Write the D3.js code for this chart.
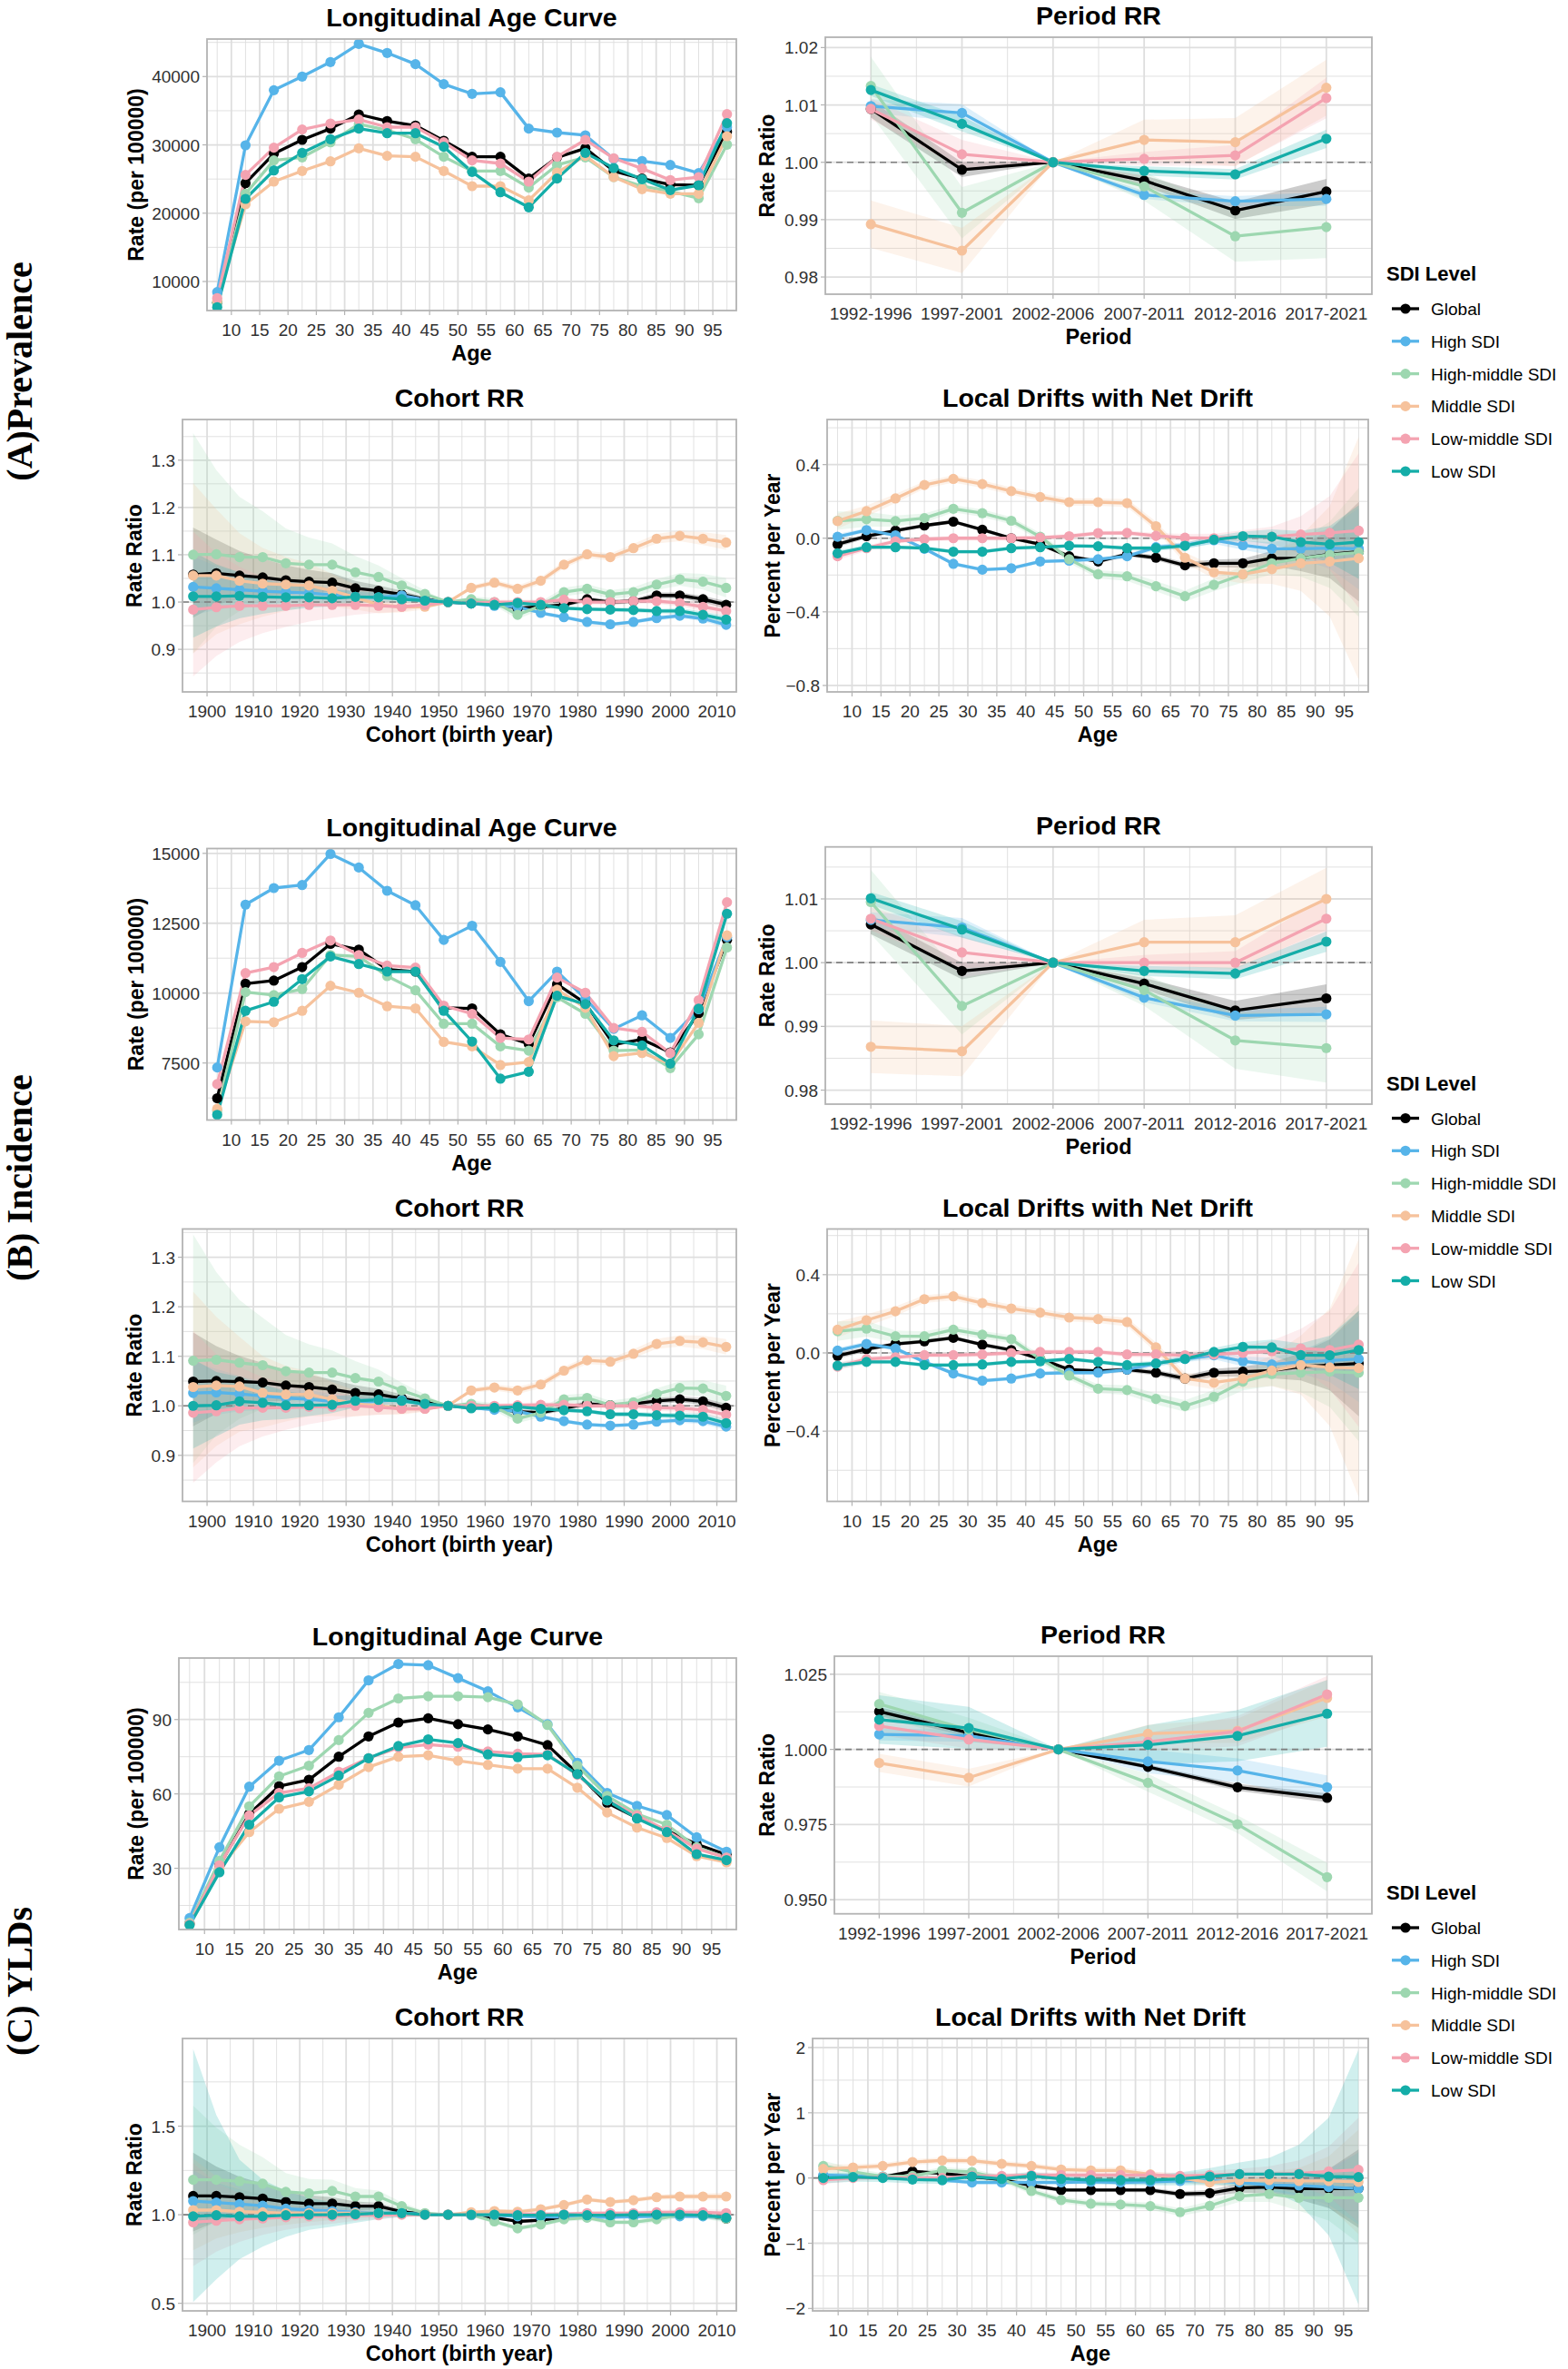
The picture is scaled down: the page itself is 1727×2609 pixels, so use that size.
<!DOCTYPE html>
<html><head><meta charset="utf-8">
<script src="https://cdn.jsdelivr.net/npm/d3@7"></script>
<style>body{margin:0;background:#fff}</style>
</head><body><svg id="c" width="1727" height="2609" xmlns="http://www.w3.org/2000/svg"></svg>
<script>
// ---------------- DATA ----------------
const sdiLevels = ["Global","High SDI","High-middle SDI","Middle SDI","Low-middle SDI","Low SDI"];
const ages = [7.5,12.5,17.5,22.5,27.5,32.5,37.5,42.5,47.5,52.5,57.5,62.5,67.5,72.5,77.5,82.5,87.5,92.5,97.5];
const ageTicks = [10,15,20,25,30,35,40,45,50,55,60,65,70,75,80,85,90,95];
const periods = ["1992-1996","1997-2001","2002-2006","2007-2011","2012-2016","2017-2021"];
const cohorts = [1897,1902,1907,1912,1917,1922,1927,1932,1937,1942,1947,1952,1957,1962,1967,1972,1977,1982,1987,1992,1997,2002,2007,2012];
const cohortTicks = [1900,1910,1920,1930,1940,1950,1960,1970,1980,1990,2000,2010];
const rowLabels = ["(A)Prevalence","(B) Incidence","(C) YLDs"];

// (A) Prevalence
const prevAge = [
 [6900,24400,28700,30740,32380,34460,33490,32820,30600,28260,28260,25070,28170,29500,26180,25070,24180,24090,31940],
 [8450,29940,38000,40000,42130,44785,43456,41817,38890,37474,37700,32380,31800,31404,27950,27640,27060,25865,32600],
 [6900,22850,27730,28170,30380,33040,32160,30830,28260,26180,26180,23740,27060,28170,25290,23960,23210,22190,30030],
 [7200,21300,24620,26180,27590,29500,28390,28260,26180,23960,23960,21880,25950,28390,25290,23520,22850,22850,31270],
 [7570,25600,29590,32250,33130,33710,32600,32600,30380,27730,27280,24620,28260,30740,28040,26530,24850,25290,34500],
 [6240,22100,26260,28830,30830,32380,31710,31710,29720,26040,23070,20860,25070,28830,26620,24980,23380,24090,33180]];
const prevPeriod = [
 [1.0093,0.9987,1.0,0.9968,0.9916,0.9949],
 [1.0098,1.0086,1.0,0.9943,0.9932,0.9936],
 [1.0133,0.9912,1.0,0.9958,0.9871,0.9887],
 [0.9892,0.9846,1.0,1.0039,1.0035,1.0130],
 [1.0093,1.0014,1.0,1.0006,1.0012,1.0112],
 [1.0126,1.0067,1.0,0.9985,0.9979,1.0041]];
const prevCohort = [
 [1.058,1.061,1.056,1.052,1.046,1.043,1.041,1.029,1.024,1.016,1.006,1.0,0.997,0.997,0.987,0.990,0.994,1.006,1.0,1.002,1.014,1.014,1.006,0.994],
 [1.032,1.029,1.026,1.023,1.021,1.019,1.015,1.011,1.010,1.014,1.005,1.0,0.997,0.992,0.990,0.977,0.968,0.958,0.953,0.958,0.966,0.971,0.965,0.952],
 [1.100,1.101,1.095,1.095,1.082,1.079,1.079,1.063,1.053,1.035,1.017,1.0,1.006,1.0,0.973,0.992,1.021,1.028,1.016,1.021,1.037,1.048,1.043,1.030],
 [1.056,1.056,1.045,1.039,1.037,1.035,1.024,1.010,0.994,0.990,0.990,1.0,1.030,1.041,1.028,1.045,1.079,1.101,1.095,1.114,1.134,1.140,1.134,1.126],
 [0.984,0.989,0.992,0.992,0.992,0.994,0.994,0.994,0.992,0.990,0.994,1.0,0.998,1.0,1.0,1.0,1.005,1.0,1.0,1.002,1.002,0.998,0.990,0.981],
 [1.012,1.012,1.013,1.011,1.010,1.010,1.008,1.011,1.010,1.006,1.003,1.0,0.997,0.994,0.998,0.994,0.987,0.985,0.984,0.983,0.981,0.981,0.973,0.963]];
const prevLocal = [
 [-0.033,0.011,0.041,0.069,0.090,0.046,0.0,-0.033,-0.098,-0.126,-0.087,-0.106,-0.147,-0.136,-0.136,-0.109,-0.109,-0.087,-0.073],
 [0.008,0.044,0.016,-0.057,-0.139,-0.171,-0.163,-0.126,-0.122,-0.114,-0.098,-0.049,-0.038,-0.011,-0.038,-0.057,-0.057,-0.054,-0.057],
 [0.095,0.103,0.093,0.109,0.160,0.136,0.095,0.008,-0.114,-0.196,-0.207,-0.261,-0.315,-0.253,-0.196,-0.136,-0.109,-0.090,-0.077],
 [0.093,0.147,0.216,0.289,0.322,0.294,0.256,0.224,0.196,0.196,0.191,0.065,-0.106,-0.185,-0.196,-0.168,-0.136,-0.126,-0.109],
 [-0.098,-0.054,-0.016,-0.005,0.0,0.0,0.0,0.003,0.011,0.028,0.029,0.013,0.003,0.0,0.008,0.008,0.020,0.029,0.041],
 [-0.082,-0.049,-0.049,-0.054,-0.073,-0.073,-0.054,-0.049,-0.041,-0.044,-0.054,-0.054,-0.041,-0.008,0.011,0.008,-0.021,-0.033,-0.021]];

// (B) Incidence
const incAge = [
 [6239,10339,10447,10932,11763,11558,10846,10770,9476,9454,8526,8181,10317,9637,8159,8343,7879,9282,11903],
 [7339,13166,13759,13867,14978,14493,13662,13144,11903,12410,11115,9713,10770,9799,8720,9206,8397,9422,12000],
 [5785,10037,9929,10145,11364,11310,10609,10101,8904,8904,8095,7944,9853,9260,7944,7965,7318,8526,11634],
 [5861,8990,8958,9368,10263,10015,9530,9454,8256,8095,7426,7534,10123,9476,7749,7857,7479,8936,12065],
 [6746,10716,10932,11439,11882,11364,10986,10911,9551,9260,8397,8343,10555,10015,8753,8612,7857,9745,13252],
 [5645,9368,9691,10501,11310,11040,10770,10770,9368,8267,6940,7188,9907,9605,8310,8127,7479,9443,12842]];
const incPeriod = [
 [1.0060,0.9987,1.0,0.9967,0.9925,0.9944],
 [1.0067,1.0055,1.0,0.9945,0.9917,0.9919],
 [1.0095,0.9932,1.0,0.9957,0.9878,0.9866],
 [0.9868,0.9861,1.0,1.0032,1.0032,1.0100],
 [1.0069,1.0016,1.0,1.0,1.0,1.0069],
 [1.0101,1.0052,1.0,0.9987,0.9983,1.0033]];
const incCohort = [
 [1.049,1.050,1.049,1.047,1.041,1.038,1.033,1.026,1.023,1.015,1.007,1.0,0.996,0.996,0.988,0.986,0.995,1.004,1.001,1.004,1.010,1.013,1.009,0.996],
 [1.026,1.027,1.024,1.020,1.016,1.013,1.009,1.006,1.010,1.012,1.002,1.0,0.996,0.992,0.989,0.978,0.969,0.962,0.960,0.962,0.968,0.971,0.969,0.958],
 [1.091,1.093,1.087,1.082,1.070,1.067,1.067,1.056,1.049,1.031,1.015,1.0,1.004,0.998,0.974,0.986,1.013,1.016,1.001,1.007,1.024,1.036,1.035,1.020],
 [1.038,1.041,1.039,1.026,1.023,1.023,1.013,1.004,1.0,0.994,0.994,1.0,1.031,1.037,1.031,1.043,1.071,1.092,1.089,1.105,1.125,1.131,1.128,1.119],
 [0.986,0.989,0.995,0.996,0.996,0.998,0.998,1.0,0.997,0.994,0.994,1.0,1.0,1.0,1.001,1.002,1.002,1.0,1.0,1.0,0.996,0.995,0.992,0.982],
 [1.0,1.001,1.009,1.006,1.001,1.001,1.002,1.010,1.012,1.010,1.004,1.0,0.995,0.996,0.998,0.994,0.991,0.989,0.983,0.983,0.981,0.980,0.978,0.965]];
const incLocal = [
 [-0.015,0.019,0.046,0.059,0.077,0.042,0.015,-0.031,-0.085,-0.093,-0.085,-0.101,-0.131,-0.101,-0.096,-0.090,-0.070,-0.062,-0.054],
 [0.012,0.046,0.023,-0.046,-0.105,-0.142,-0.131,-0.105,-0.101,-0.101,-0.085,-0.054,-0.031,-0.012,-0.043,-0.059,-0.046,-0.039,-0.031],
 [0.111,0.124,0.085,0.085,0.119,0.093,0.070,-0.031,-0.116,-0.183,-0.190,-0.235,-0.271,-0.224,-0.147,-0.108,-0.101,-0.096,-0.101],
 [0.119,0.167,0.213,0.275,0.289,0.255,0.227,0.206,0.181,0.173,0.158,0.028,-0.131,-0.152,-0.131,-0.090,-0.062,-0.074,-0.077],
 [-0.070,-0.031,-0.023,-0.011,-0.011,-0.008,0.0,0.005,0.005,0.005,-0.008,-0.008,-0.012,-0.008,0.0,0.008,0.023,0.015,0.042],
 [-0.065,-0.046,-0.046,-0.062,-0.062,-0.059,-0.046,-0.043,-0.031,-0.046,-0.062,-0.054,-0.031,0.005,0.031,0.028,-0.011,-0.012,0.015]];

// (C) YLDs
const yldAge = [
 [7.7,31.2,51.9,63.1,65.7,75.0,83.2,88.8,90.5,88.1,86.0,83.2,79.7,68.3,56.4,50.3,45.2,39.7,35.5],
 [9.9,38.5,62.9,73.4,77.7,90.9,105.8,112.4,111.9,106.7,101.4,94.9,88.1,72.6,60.4,55.2,51.5,42.5,36.7],
 [8.1,33.0,55.0,67.1,71.4,81.7,92.7,98.5,99.4,99.4,99.0,96.1,87.8,71.4,59.2,51.9,47.6,38.5,34.3],
 [7.5,30.0,44.6,54.0,56.8,63.7,70.8,75.0,75.6,73.4,71.7,70.2,70.2,62.5,52.5,46.4,42.2,34.9,32.4],
 [7.5,31.2,51.3,60.4,62.3,68.9,74.4,78.7,79.9,79.0,77.1,76.2,75.9,67.7,57.4,51.3,45.2,37.9,34.3],
 [7.1,28.4,47.6,58.6,61.0,67.4,74.4,79.3,82.0,80.5,75.9,74.8,75.6,68.0,57.4,50.1,44.6,35.7,33.3]];
const yldPeriod = [
 [1.0126,1.0055,1.0,0.9942,0.9874,0.9839],
 [1.0050,1.0045,1.0,0.9960,0.9930,0.9874],
 [1.0151,1.0065,1.0,0.9889,0.9751,0.9575],
 [0.9955,0.9906,1.0,1.0052,1.0062,1.0171],
 [1.0078,1.0033,1.0,1.0025,1.0060,1.0183],
 [1.0099,1.0071,1.0,1.0015,1.0045,1.0119]];
const yldCohort = [
 [1.106,1.106,1.099,1.091,1.072,1.063,1.063,1.048,1.048,1.017,1.003,1.0,1.0,0.983,0.962,0.969,0.986,0.997,0.997,0.997,1.0,1.0,0.997,0.979],
 [1.077,1.069,1.060,1.051,1.034,1.026,1.021,1.014,1.009,1.009,1.003,1.0,0.997,0.997,0.991,0.988,0.986,0.986,0.986,0.988,0.991,0.991,0.991,0.986],
 [1.197,1.197,1.189,1.175,1.129,1.120,1.134,1.103,1.103,1.048,1.009,1.0,1.0,0.962,0.923,0.945,0.974,0.983,0.957,0.957,0.974,1.0,0.997,0.979],
 [1.026,1.026,1.017,1.014,1.009,1.009,1.009,1.009,1.009,1.003,1.0,1.0,1.014,1.021,1.017,1.031,1.055,1.086,1.072,1.082,1.099,1.103,1.103,1.103],
 [0.957,0.966,0.974,0.979,0.986,0.991,0.991,0.997,0.997,1.0,1.0,1.0,1.0,1.0,1.003,1.003,1.003,1.009,1.009,1.009,1.014,1.014,1.014,1.009],
 [0.991,0.997,0.991,0.991,0.997,1.0,1.0,1.003,1.009,1.009,1.0,1.0,1.0,1.0,0.997,0.997,1.0,0.997,0.997,1.0,1.0,1.0,0.997,0.983]];
const yldLocal = [
 [0.023,0.023,0.014,0.102,0.069,0.023,-0.023,-0.116,-0.185,-0.185,-0.185,-0.185,-0.245,-0.232,-0.153,-0.139,-0.162,-0.162,-0.162],
 [0.046,0.032,0.023,0.0,-0.032,-0.069,-0.069,-0.069,-0.069,-0.060,-0.069,-0.060,-0.046,-0.037,-0.069,-0.106,-0.116,-0.139,-0.162],
 [0.185,0.093,0.023,0.032,0.116,0.093,-0.014,-0.199,-0.338,-0.394,-0.407,-0.431,-0.523,-0.426,-0.278,-0.245,-0.301,-0.301,-0.301],
 [0.139,0.162,0.185,0.245,0.269,0.264,0.218,0.185,0.130,0.116,0.116,0.056,0.0,-0.069,-0.037,-0.032,-0.046,-0.046,-0.060],
 [-0.032,0.0,0.014,0.0,0.0,0.032,0.032,0.046,0.046,0.046,0.046,0.046,0.032,0.046,0.060,0.060,0.069,0.102,0.125],
 [0.0,0.014,0.0,-0.023,-0.032,0.023,-0.014,0.032,-0.014,-0.032,-0.032,-0.032,-0.014,0.023,0.060,0.060,0.060,0.023,0.014]];

// confidence half-widths (log scale for RR, additive for drifts)
const ciPeriodAB = [
 [0.0015,0.0013,0,0.0009,0.0015,0.0022],
 [0.0012,0.0015,0,0.0007,0.0009,0.0012],
 [0.0050,0.0045,0,0.0025,0.0045,0.0055],
 [0.0042,0.0040,0,0.0035,0.0042,0.0048],
 [0.0018,0.0025,0,0.0012,0.0018,0.0035],
 [0.0010,0.0013,0,0.0008,0.0009,0.0016]];
const ciPeriodC = [
 [0.0015,0.0012,0,0.0008,0.0012,0.0015],
 [0.0020,0.0020,0,0.0040,0.0040,0.0040],
 [0.0040,0.0040,0,0.0030,0.0030,0.0050],
 [0.0030,0.0030,0,0.0030,0.0040,0.0060],
 [0.0030,0.0030,0,0.0030,0.0050,0.0060],
 [0.0080,0.0070,0,0.0065,0.0085,0.0110]];
const ciCohortAB = [
 [0.090,0.065,0.048,0.037,0.030,0.024,0.019,0.015,0.011,0.008,0.004,0,0.003,0.004,0.005,0.005,0.005,0.005,0.005,0.005,0.006,0.006,0.007,0.008],
 [0.060,0.045,0.035,0.028,0.022,0.018,0.014,0.011,0.008,0.006,0.003,0,0.003,0.004,0.004,0.004,0.004,0.004,0.004,0.004,0.005,0.005,0.006,0.007],
 [0.210,0.150,0.110,0.085,0.066,0.052,0.041,0.032,0.023,0.015,0.008,0,0.006,0.008,0.009,0.009,0.009,0.009,0.009,0.010,0.011,0.013,0.016,0.020],
 [0.170,0.125,0.092,0.070,0.055,0.044,0.034,0.026,0.018,0.012,0.006,0,0.005,0.006,0.007,0.007,0.007,0.007,0.007,0.008,0.009,0.010,0.012,0.014],
 [0.155,0.110,0.080,0.060,0.046,0.036,0.028,0.021,0.015,0.010,0.005,0,0.004,0.005,0.005,0.005,0.005,0.005,0.005,0.006,0.006,0.007,0.009,0.011],
 [0.090,0.065,0.048,0.036,0.028,0.022,0.017,0.013,0.010,0.007,0.004,0,0.003,0.004,0.004,0.004,0.004,0.004,0.004,0.005,0.005,0.006,0.007,0.008]];
const ciCohortC = [
 [0.200,0.140,0.100,0.075,0.056,0.043,0.033,0.025,0.018,0.012,0.006,0,0.006,0.008,0.009,0.009,0.009,0.009,0.009,0.009,0.010,0.011,0.012,0.014],
 [0.150,0.100,0.075,0.056,0.042,0.032,0.025,0.019,0.014,0.009,0.005,0,0.005,0.007,0.008,0.008,0.008,0.008,0.008,0.008,0.009,0.010,0.011,0.013],
 [0.300,0.220,0.160,0.120,0.090,0.070,0.055,0.042,0.030,0.020,0.010,0,0.010,0.013,0.014,0.014,0.014,0.014,0.014,0.015,0.016,0.018,0.020,0.024],
 [0.250,0.170,0.120,0.090,0.068,0.052,0.040,0.030,0.022,0.014,0.007,0,0.008,0.010,0.011,0.011,0.011,0.011,0.011,0.012,0.013,0.014,0.016,0.019],
 [0.300,0.200,0.140,0.100,0.075,0.057,0.043,0.032,0.023,0.015,0.008,0,0.008,0.010,0.011,0.011,0.011,0.011,0.011,0.012,0.013,0.014,0.016,0.019],
 [0.670,0.450,0.280,0.190,0.130,0.090,0.070,0.050,0.035,0.022,0.010,0,0.010,0.012,0.013,0.013,0.013,0.013,0.013,0.013,0.014,0.015,0.017,0.020]];
const ciLocalAB = [
 [0.015,0.012,0.010,0.010,0.010,0.010,0.010,0.010,0.010,0.010,0.012,0.014,0.016,0.020,0.025,0.040,0.070,0.130,0.270],
 [0.015,0.012,0.010,0.010,0.010,0.010,0.010,0.010,0.010,0.010,0.012,0.014,0.016,0.020,0.025,0.035,0.060,0.110,0.220],
 [0.050,0.040,0.030,0.025,0.020,0.020,0.020,0.020,0.020,0.022,0.025,0.028,0.030,0.035,0.045,0.060,0.100,0.180,0.350],
 [0.040,0.030,0.025,0.020,0.020,0.020,0.020,0.020,0.020,0.020,0.022,0.025,0.030,0.035,0.050,0.080,0.150,0.300,0.660],
 [0.020,0.015,0.012,0.012,0.012,0.012,0.012,0.012,0.012,0.012,0.013,0.015,0.020,0.025,0.035,0.055,0.100,0.200,0.420],
 [0.015,0.012,0.010,0.010,0.010,0.010,0.010,0.010,0.010,0.010,0.012,0.014,0.016,0.020,0.025,0.040,0.060,0.100,0.200]];
const ciLocalC = [
 [0.040,0.030,0.030,0.030,0.030,0.030,0.030,0.030,0.030,0.030,0.030,0.035,0.040,0.050,0.070,0.100,0.170,0.300,0.600],
 [0.040,0.030,0.030,0.030,0.030,0.030,0.030,0.030,0.030,0.030,0.030,0.035,0.040,0.050,0.065,0.090,0.150,0.270,0.550],
 [0.080,0.060,0.050,0.050,0.050,0.050,0.050,0.050,0.050,0.050,0.050,0.055,0.060,0.070,0.090,0.120,0.200,0.350,0.700],
 [0.070,0.050,0.045,0.045,0.045,0.045,0.045,0.045,0.045,0.045,0.045,0.050,0.055,0.065,0.085,0.120,0.200,0.380,0.800],
 [0.060,0.045,0.040,0.040,0.040,0.040,0.040,0.040,0.040,0.040,0.040,0.045,0.050,0.060,0.080,0.120,0.200,0.380,0.800],
 [0.080,0.070,0.060,0.060,0.060,0.060,0.060,0.060,0.060,0.060,0.070,0.080,0.100,0.130,0.180,0.250,0.450,0.900,1.950]];

// ---------------- STYLE ----------------
const colors = ["#000000","#56B4E9","#9DD7B0","#F6C29C","#F4A3B1","#14ADA8"];
const SANS = '"Liberation Sans", Arial, Helvetica, sans-serif';
const SERIF = '"Liberation Serif", "Times New Roman", serif';
const ROW = [0, 891.5, 1783];
const PT_R = 5.6, LINE_W = 3.3;
const svg = d3.select("#c");
svg.append("rect").attr("width",1727).attr("height",2609).attr("fill","#fff");

function hText(g, x, y, str, o) {
  return g.append("text").attr("x",x).attr("y",y).text(str)
    .attr("font-family",o.fam||SANS).attr("font-size",o.size).attr("font-weight",o.bold?"bold":"normal")
    .attr("fill",o.fill||"#000").attr("text-anchor",o.anchor||"middle");
}
function vText(g, x, y, str, o) {
  return g.append("text").attr("transform",`translate(${x},${y}) rotate(-90)`).text(str)
    .attr("font-family",o.fam||SANS).attr("font-size",o.size).attr("font-weight",o.bold?"bold":"normal")
    .attr("fill",o.fill||"#000").attr("text-anchor","middle");
}

function panel(o) {
  const g = svg.append("g");
  const x = d3.scaleLinear().domain(o.xDomain).range([o.x0, o.x1]);
  const y = d3.scaleLinear().domain(o.yDomain).range([o.y1, o.y0]);
  const gridCol = "#DEDEDE";
  g.selectAll(null).data(o.yMinor).join("line").attr("x1",o.x0).attr("x2",o.x1)
    .attr("y1",d=>y(d)).attr("y2",d=>y(d)).attr("stroke",gridCol).attr("stroke-width",0.9);
  g.selectAll(null).data(o.xMinor).join("line").attr("y1",o.y0).attr("y2",o.y1)
    .attr("x1",d=>x(d)).attr("x2",d=>x(d)).attr("stroke",gridCol).attr("stroke-width",0.9);
  g.selectAll(null).data(o.yTicks).join("line").attr("x1",o.x0).attr("x2",o.x1)
    .attr("y1",d=>y(d)).attr("y2",d=>y(d)).attr("stroke",gridCol).attr("stroke-width",1.8);
  g.selectAll(null).data(o.xTickPos).join("line").attr("y1",o.y0).attr("y2",o.y1)
    .attr("x1",d=>x(d)).attr("x2",d=>x(d)).attr("stroke",gridCol).attr("stroke-width",1.8);

  const clip = "clip" + Math.round(o.x0) + "_" + Math.round(o.y0);
  g.append("clipPath").attr("id",clip).append("rect")
    .attr("x",o.x0).attr("y",o.y0).attr("width",o.x1-o.x0).attr("height",o.y1-o.y0);
  const pg = g.append("g").attr("clip-path",`url(#${clip})`);

  if (o.ci) {
    o.series.forEach((s,i) => {
      const pts = s.map((v,j) => {
        const h = o.ci[i][j];
        const lo = o.logCI ? v*Math.exp(-h) : v-h;
        const hi = o.logCI ? v*Math.exp(h) : v+h;
        return {x:o.xs[j], lo, hi};
      });
      pg.append("path").datum(pts)
        .attr("d", d3.area().x(d=>x(d.x)).y0(d=>y(d.lo)).y1(d=>y(d.hi)))
        .attr("fill", colors[i]).attr("fill-opacity", 0.2);
    });
  }
  if (o.ref !== undefined) {
    pg.append("line").attr("x1",o.x0).attr("x2",o.x1).attr("y1",y(o.ref)).attr("y2",y(o.ref))
      .attr("stroke","#7f7f7f").attr("stroke-width",1.6).attr("stroke-dasharray","7,5");
  }
  const line = d3.line().x((d,j)=>x(o.xs[j])).y(d=>y(d));
  o.series.forEach((s,i) => {
    pg.append("path").datum(s).attr("d",line).attr("fill","none")
      .attr("stroke",colors[i]).attr("stroke-width",LINE_W).attr("stroke-linejoin","round");
  });
  o.series.forEach((s,i) => {
    pg.selectAll(null).data(s).join("circle")
      .attr("cx",(d,j)=>x(o.xs[j])).attr("cy",d=>y(d)).attr("r",PT_R).attr("fill",colors[i]);
  });
  g.append("rect").attr("x",o.x0).attr("y",o.y0).attr("width",o.x1-o.x0).attr("height",o.y1-o.y0)
    .attr("fill","none").attr("stroke","#B3B3B3").attr("stroke-width",1.8);
  g.selectAll(null).data(o.xTickPos).join("line").attr("x1",d=>x(d)).attr("x2",d=>x(d))
    .attr("y1",o.y1).attr("y2",o.y1+5).attr("stroke","#B3B3B3").attr("stroke-width",1.2);
  g.selectAll(null).data(o.yTicks).join("line").attr("y1",d=>y(d)).attr("y2",d=>y(d))
    .attr("x1",o.x0-5).attr("x2",o.x0).attr("stroke","#B3B3B3").attr("stroke-width",1.2);
  o.xTickPos.forEach((p,k) => hText(g, x(p), o.y1+28, o.xTickLab[k], {size:19, fill:"#303030"}));
  o.yTicks.forEach(t => hText(g, o.x0-8, y(t)+7, o.yFmt(t), {size:19, fill:"#303030", anchor:"end"}));
  hText(g, (o.x0+o.x1)/2, o.y0-14, o.title, {size:28.5, bold:true});
  hText(g, (o.x0+o.x1)/2, o.y1+55, o.xTitle, {size:23.5, bold:true});
  vText(g, o.yTitleX + 8, (o.y0+o.y1)/2, o.yTitle, {size:23, bold:true});
}

const fmt0 = d3.format("d"), fmt1 = d3.format(".1f"), fmt2 = d3.format(".2f"), fmt3 = d3.format(".3f");
const ageDom = [5.7, 99.15];
const perPos = [1,2,3,4,5,6];
const perMinor = [1.5,2.5,3.5,4.5,5.5];
const cohDom = [1894.7, 2014.2];
const cohMinor = [1905,1915,1925,1935,1945,1955,1965,1975,1985,1995,2005];

const ageSets = [prevAge, incAge, yldAge];
const periodSets = [prevPeriod, incPeriod, yldPeriod];
const cohortSets = [prevCohort, incCohort, yldCohort];
const localSets = [prevLocal, incLocal, yldLocal];

const longCfg = [
  {x0:228, yDomain:[5750,45490], yTicks:[10000,20000,30000,40000], yMinor:[15000,25000,35000,45000], fmt:fmt0},
  {x0:228, yDomain:[5460,15172], yTicks:[7500,10000,12500,15000], yMinor:[6250,8750,11250,13750], fmt:fmt0},
  {x0:197, yDomain:[5.3,114.8], yTicks:[30,60,90], yMinor:[15,45,75,105], fmt:fmt0}];
const perCfg = [
  {x0:909, y0:41, y1:324, yDomain:[0.977,1.0218], yTicks:[0.98,0.99,1.0,1.01,1.02], yMinor:[0.985,0.995,1.005,1.015], fmt:fmt2, ci:ciPeriodAB},
  {x0:909, y0:41.2, y1:324.5, yDomain:[0.9778,1.01816], yTicks:[0.98,0.99,1.0,1.01], yMinor:[0.985,0.995,1.005,1.015], fmt:fmt2, ci:ciPeriodAB},
  {x0:919, y0:41, y1:324.7, yDomain:[0.9453,1.031], yTicks:[0.95,0.975,1.0,1.025], yMinor:[0.9625,0.9875,1.0125], fmt:fmt3, ci:ciPeriodC}];
const cohCfg = [
  {yDomain:[0.81,1.386], yTicks:[0.9,1.0,1.1,1.2,1.3], yMinor:[0.85,0.95,1.05,1.15,1.25,1.35], fmt:fmt1, ci:ciCohortAB},
  {yDomain:[0.807,1.357], yTicks:[0.9,1.0,1.1,1.2,1.3], yMinor:[0.85,0.95,1.05,1.15,1.25,1.35], fmt:fmt1, ci:ciCohortAB},
  {yDomain:[0.457,1.995], yTicks:[0.5,1.0,1.5], yMinor:[0.75,1.25,1.75], fmt:fmt1, ci:ciCohortC}];
const locCfg = [
  {x0:911, yDomain:[-0.835,0.645], yTicks:[-0.8,-0.4,0.0,0.4], yMinor:[-0.6,-0.2,0.2,0.6], fmt:fmt1, ci:ciLocalAB},
  {x0:911, yDomain:[-0.759,0.6335], yTicks:[-0.4,0.0,0.4], yMinor:[-0.6,-0.2,0.2,0.6], fmt:fmt1, ci:ciLocalAB},
  {x0:895, yDomain:[-2.037,2.139], yTicks:[-2,-1,0,1,2], yMinor:[-1.5,-0.5,0.5,1.5], fmt:fmt0, ci:ciLocalC}];

for (let r=0; r<3; r++) {
  const off = ROW[r];
  const L = longCfg[r];
  panel({x0:L.x0, x1:811, y0:43+off, y1:342+off, xDomain:ageDom, xs:ages, xTickPos:ageTicks,
    xTickLab:ageTicks.map(String), xMinor:ages, yDomain:L.yDomain, yTicks:L.yTicks, yMinor:L.yMinor,
    yFmt:L.fmt, series:ageSets[r], title:"Longitudinal Age Curve", xTitle:"Age",
    yTitle:"Rate (per 100000)", yTitleX:150});
  const P = perCfg[r];
  panel({x0:P.x0, x1:1511, y0:P.y0+off, y1:P.y1+off, xDomain:[0.5,6.5], xs:perPos, xTickPos:perPos,
    xTickLab:periods, xMinor:perMinor, yDomain:P.yDomain, yTicks:P.yTicks, yMinor:P.yMinor,
    yFmt:P.fmt, series:periodSets[r], ci:P.ci, logCI:true, ref:1, title:"Period RR", xTitle:"Period",
    yTitle:"Rate Ratio", yTitleX:845});
  const C = cohCfg[r];
  panel({x0:201, x1:811, y0:462+off, y1:762+off, xDomain:cohDom, xs:cohorts, xTickPos:cohortTicks,
    xTickLab:cohortTicks.map(String), xMinor:cohMinor, yDomain:C.yDomain, yTicks:C.yTicks, yMinor:C.yMinor,
    yFmt:C.fmt, series:cohortSets[r], ci:C.ci, logCI:true, ref:1, title:"Cohort RR", xTitle:"Cohort (birth year)",
    yTitle:"Rate Ratio", yTitleX:148});
  const D = locCfg[r];
  panel({x0:D.x0, x1:1507, y0:462+off, y1:762+off, xDomain:ageDom, xs:ages, xTickPos:ageTicks,
    xTickLab:ageTicks.map(String), xMinor:ages, yDomain:D.yDomain, yTicks:D.yTicks, yMinor:D.yMinor,
    yFmt:D.fmt, series:localSets[r], ci:D.ci, logCI:false, ref:0, title:"Local Drifts with Net Drift", xTitle:"Age",
    yTitle:"Percent per Year", yTitleX:851});

  const lg = svg.append("g");
  hText(lg, 1527, 309+off, "SDI Level", {size:22, bold:true, anchor:"start"});
  sdiLevels.forEach((s,i) => {
    const cy = 340 + i*35.8 + off;
    lg.append("line").attr("x1",1533).attr("x2",1563).attr("y1",cy).attr("y2",cy)
      .attr("stroke",colors[i]).attr("stroke-width",LINE_W);
    lg.append("circle").attr("cx",1548).attr("cy",cy).attr("r",PT_R).attr("fill",colors[i]);
    hText(lg, 1576, cy+7, s, {size:19, anchor:"start"});
  });
  vText(svg, 22 + 13, [409,1297,2182][r], rowLabels[r], {size:40, bold:true, fam:SERIF});
}
</script></body></html>
